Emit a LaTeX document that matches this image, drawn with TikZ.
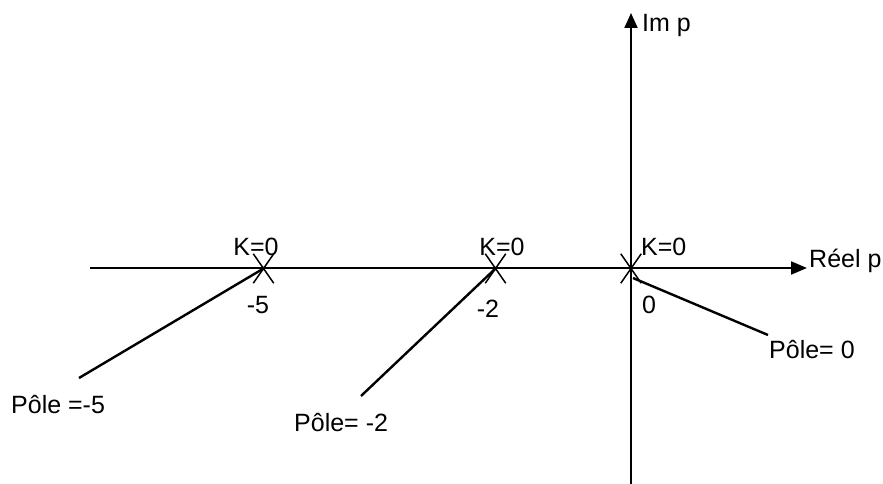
\documentclass[tikz,border=0pt]{standalone}
\usepackage{fontspec}
\setmainfont{Liberation Sans}
\usetikzlibrary{arrows.meta,shapes.misc}
\begin{document}
\begin{tikzpicture}[x=1pt,y=-1pt,
  axis/.style={line width=2pt},
  conn/.style={line width=2.4pt},
  polemark/.style={cross out,draw,line width=1.5pt,minimum width=19pt,minimum height=28pt,inner sep=0pt},
  lbl/.style={inner sep=0pt,font=\fontsize{25}{30}\selectfont}
]
\useasboundingbox (0,0) rectangle (883,484);
% axes
\coordinate (xl) at (90,268);
\coordinate (xr) at (807,268);
\coordinate (yb) at (631,484);
\coordinate (yt) at (631,13);
\draw[axis,-{Triangle[length=16pt,width=13pt]}] (xl) -- (xr);
\draw[axis,-{Triangle[length=15pt,width=13pt]}] (yb) -- (yt);
\node[lbl,anchor=base west] (re) at (809,267) {Réel p};
\node[lbl,anchor=base west] (im) at (642,32) {Im p};
% poles
\node[polemark] (p5) at (263.5,268.5) {};
\node[polemark] (p2) at (495.5,268.5) {};
\node[polemark] (p0) at (631,268.5) {};
\node[lbl,anchor=base] (k5) at (256,255) {K=0};
\node[lbl,anchor=base] (k2) at (502,255) {K=0};
\node[lbl,anchor=base west] (k0) at (641,255) {K=0};
\node[lbl,anchor=base] (v5) at (258,313) {-5};
\node[lbl,anchor=base] (v2) at (488,317) {-2};
\node[lbl,anchor=base west] (v0) at (642,313) {0};
% pole labels
\node[lbl,anchor=base west] (l5) at (11,413) {Pôle =-5};
\node[lbl,anchor=base west] (l2) at (294,431) {Pôle= -2};
\node[lbl,anchor=base west] (l0) at (769,358) {Pôle= 0};
\coordinate (e5) at (79,378);
\coordinate (e2) at (361,396);
\coordinate (e0) at (768,335);
\coordinate (s0) at (633,278);
\draw[conn] (p5.center) -- (e5);
\draw[conn] (p2.center) -- (e2);
\draw[conn] (s0) -- (e0);
\end{tikzpicture}
\end{document}
